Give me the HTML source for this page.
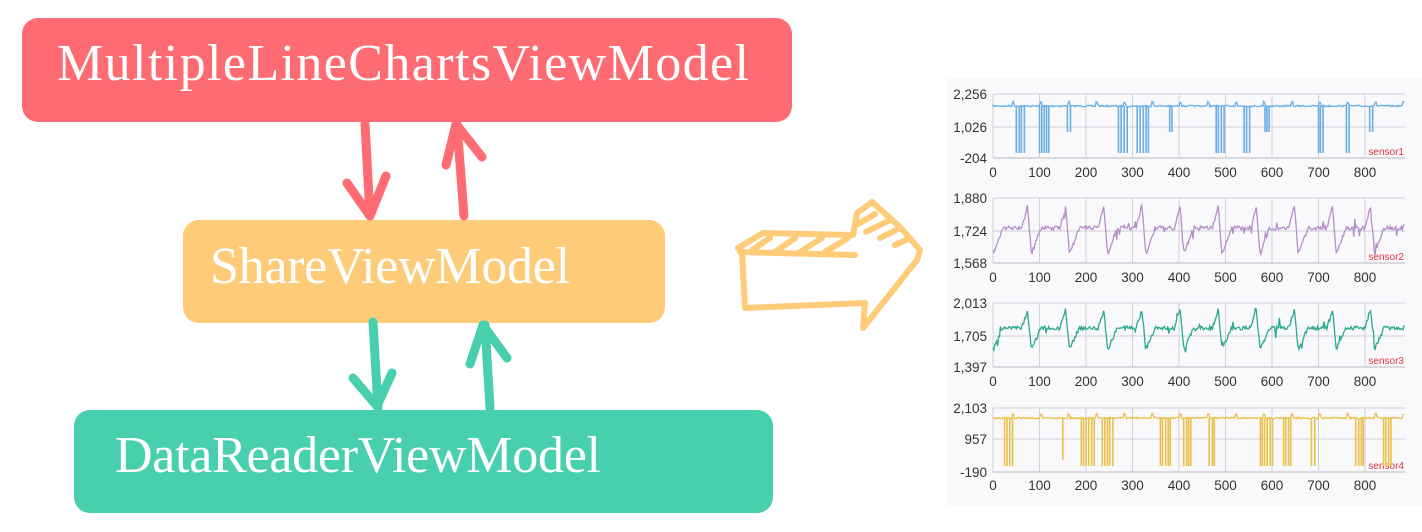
<!DOCTYPE html>
<html><head><meta charset="utf-8"><style>
html,body{margin:0;padding:0;background:#fff;width:1422px;height:532px;overflow:hidden;position:relative}
.box{position:absolute;border-radius:16px}
</style></head><body>
<div class="box" style="left:22px;top:18px;width:770px;height:104px;background:#ff6b72"></div>
<div class="box" style="left:183px;top:220px;width:482px;height:103px;background:#fecb78"></div>
<div class="box" style="left:74px;top:410px;width:699px;height:103px;background:#48cfae"></div>
<svg id="s" width="1422" height="532" style="position:absolute;left:0;top:0" xmlns="http://www.w3.org/2000/svg">
<g fill="#fff" font-family="Liberation Serif, serif" font-size="52" lengthAdjust="spacing">
<text x="57" y="80" textLength="692" lengthAdjust="spacing">MultipleLineChartsViewModel</text>
<text x="210" y="283" textLength="360" lengthAdjust="spacing">ShareViewModel</text>
<text x="115" y="472" textLength="486" lengthAdjust="spacing">DataReaderViewModel</text>
</g>
<g fill="none" stroke-linecap="round" stroke-linejoin="round" stroke-width="9">
<g stroke="#ff6b72">
<path d="M365 124 L370 216 M347 183 L370 216 L386 176"/>
<path d="M464 216 L457 124 M446 165 L456 124 L482 157"/>
</g>
<g stroke="#48cfae">
<path d="M373 322 L378 408 M353 378 L377 406 L392 373"/>
<path d="M490 408 L485 325 M470 364 L483 325 L507 358"/>
</g>
<g stroke="#fecb78" stroke-width="6">
<path d="M742 252 L745 308 L865 303 L863 328 L917 260 L920 250 L900 227 L872 202 L857 213 L853 235 L763 233 L738 248 L742 252"/>
<path d="M740 252 L855 255 M752 250 L770 238 M775 252 L795 238 M800 252 L822 238 M825 252 L848 238 M858 224 L875 214 M866 232 L890 220 M880 238 L900 228 M895 245 L910 238"/>
</g>
</g>
<rect x="947" y="78" width="475" height="428" fill="#f9f9fb"/>
<g id="charts"></g>
</svg>
<script>
(function(){
var g=document.getElementById('charts'),NS='http://www.w3.org/2000/svg';
var seed=7;function r(){seed=(seed*16807)%2147483647;return seed/2147483647;}
function el(n,a,t){var e=document.createElementNS(NS,n);for(var k in a)e.setAttribute(k,a[k]);if(t)e.textContent=t;g.appendChild(e);return e;}
function X(v){return 993+v*0.465;}
var rows=[{t:94,m:127,b:158,l:172,y:['2,256','1,026','-204'],c:'#6aaee6',k:'s',base:106,lo:153,mid:132,n:'sensor1',
 cl:[[50,70,1],[100,120,1],[160,170,0],[270,290,1],[310,340,1],[380,390,0],[480,500,1],[540,555,1],[585,595,0],[700,715,1],[760,770,1],[810,820,0]]},
{t:198,m:231,b:263,l:277,y:['1,880','1,724','1,568'],c:'#b48fc8',k:'w',base:228,amp:22,n:'sensor2'},
{t:303,m:336,b:367,l:381,y:['2,013','1,705','1,397'],c:'#2aa98e',k:'w',base:328,amp:18,n:'sensor3'},
{t:408,m:439,b:472,l:485,y:['2,103','957','-190'],c:'#e9c14a',k:'s',base:418,lo:466,mid:460,n:'sensor4',
 cl:[[25,42,1],[150,155,0],[190,222,1],[235,262,1],[360,382,1],[410,432,1],[465,482,1],[575,602,1],[625,642,1],[685,692,1],[780,802,1],[840,856,1]]}];
rows.forEach(function(R){
 el('line',{x1:993,y1:R.t,x2:1405,y2:R.t,stroke:'#d0d0d8','stroke-width':1});
 el('line',{x1:993,y1:R.m,x2:1405,y2:R.m,stroke:'#d0d0d8','stroke-width':1});
 el('line',{x1:993,y1:R.b,x2:1405,y2:R.b,stroke:'#b8b8c0','stroke-width':1});
 for(var i=0;i<9;i++){var x=993+i*46.5;el('line',{x1:x,y1:R.t,x2:x,y2:R.b,stroke:'#d0d0d8','stroke-width':1});
  el('text',{x:x,y:R.l+5,'font-family':'Liberation Sans,sans-serif','font-size':'13.5','fill':'#333','text-anchor':'middle'},String(i*100));}
 [R.t,R.m,R.b].forEach(function(y,j){el('text',{x:987,y:y+5,'font-family':'Liberation Sans,sans-serif','font-size':'13.5','fill':'#333','text-anchor':'end'},R.y[j]);});
 el('text',{x:1404,y:R.b-3,'font-family':'Liberation Sans,sans-serif','font-size':'10','fill':'#e03040','text-anchor':'end'},R.n);
 var d='',v,y;
 if(R.k=='s'){
  d='M'+X(0)+' '+R.base;
  for(v=0;v<=885;v+=2){y=R.base+(r()-0.5)*1.5;if(v%60>40&&v%60<46)y-=4;d+=' L'+X(v).toFixed(1)+' '+y.toFixed(1);}
  var s='';
  R.cl.forEach(function(c){for(var w=c[0];w<=c[1];w+=4+r()*3){s+='M'+X(w).toFixed(1)+' '+R.base+' L'+X(w).toFixed(1)+' '+(c[2]?R.lo:R.mid)+' ';}});
  el('path',{d:s,fill:'none',stroke:R.c,'stroke-width':1.6});
 } else {
  for(v=0;v<=885;v+=2){var ph=((v+20)%82)/82;y=R.base;
   if(ph<0.15)y-=ph/0.15*R.amp;else if(ph<0.25)y+=-R.amp+(ph-0.15)/0.1*R.amp*2.2;else if(ph<0.5)y+=R.amp*1.2*(1-(ph-0.25)/0.25);
   y+=(r()-0.5)*4;if(r()<0.06)y+=(r()-0.5)*20;
   d+=(d?' L':'M')+X(v).toFixed(1)+' '+y.toFixed(1);}
 }
 el('path',{d:d,fill:'none',stroke:R.c,'stroke-width':1.3});
});
})();
</script>
</body></html>
